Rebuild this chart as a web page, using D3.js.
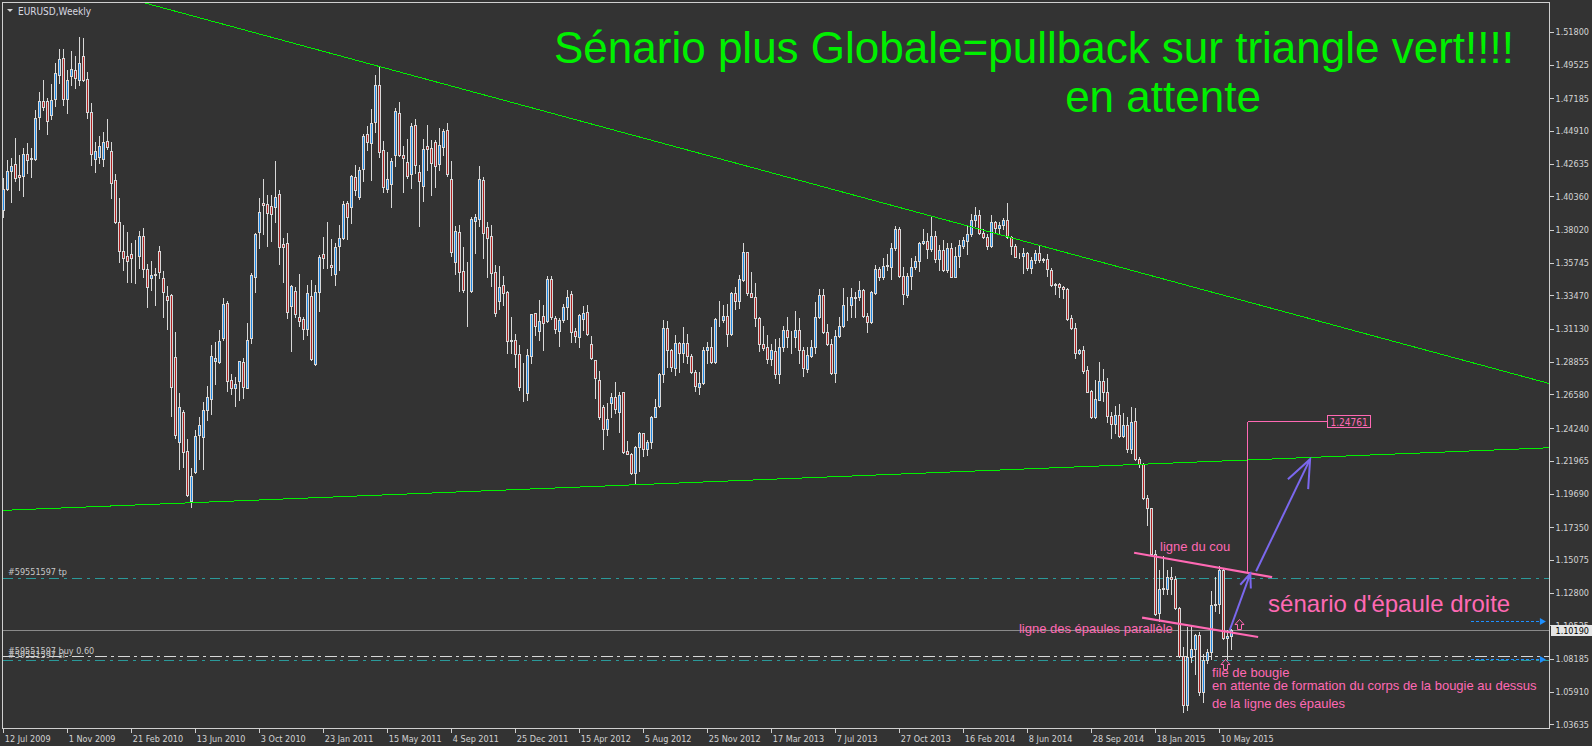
<!DOCTYPE html>
<html><head><meta charset="utf-8"><title>EURUSD Weekly</title>
<script src="https://cdn.jsdelivr.net/npm/d3@7/dist/d3.min.js"></script>
<style>
html,body{margin:0;padding:0;background:#333333;overflow:hidden}
svg{display:block}
</style></head><body>
<svg id="chart" width="1592" height="746"></svg>
<script>
// ---------------- data ----------------
const symbolTitle = "EURUSD,Weekly";
const firstBarDate = "2009-07-12";
const open = [
1.3941,1.4087,1.4215,1.4259,1.4185,1.4180,1.4329,1.4294,1.4294,1.4591,
1.4700,1.4700,1.4605,1.4716,1.4883,1.4997,1.4711,1.4876,1.4913,1.4846,
1.5011,1.4851,1.4621,1.4298,1.4312,1.4294,1.4421,1.4352,1.4150,1.3855,
1.3656,1.3619,1.3635,1.3619,1.3623,1.3760,1.3528,1.3466,1.3489,1.3656,
1.3466,1.3345,1.3350,1.2916,1.2329,1.2533,1.2264,1.1918,1.2120,1.2375,
1.2364,1.2549,1.2630,1.2893,1.2881,1.3053,1.3292,1.2758,1.2700,1.2751,
1.2883,1.2705,1.3053,1.3477,1.3790,1.3992,1.3981,1.3969,1.3960,1.4050,
1.3702,1.3709,1.3275,1.3377,1.3194,1.3180,1.3111,1.3343,1.2867,1.3373,
1.3633,1.3586,1.3558,1.3498,1.3693,1.3744,1.3988,1.3964,1.4169,1.4034,
1.4224,1.4468,1.4405,1.4556,1.4811,1.4359,1.4087,1.4120,1.4324,1.4619,
1.4324,1.4273,1.4189,1.4533,1.4203,1.4108,1.4387,1.4375,1.4412,1.4259,
1.4380,1.4496,1.4155,1.3582,1.3790,1.3517,1.3384,1.3377,1.3865,1.3880,
1.4150,1.3821,1.3760,1.3507,1.3310,1.3419,1.3368,1.3036,1.3036,1.2937,
1.2685,1.2670,1.2925,1.3222,1.3101,1.3201,1.3171,1.3459,1.3187,1.3101,
1.3176,1.3264,1.3354,1.3099,1.3059,1.3180,1.3229,1.3006,1.2895,1.2756,
1.2568,1.2415,1.2600,1.2640,1.2538,1.2672,1.2264,1.2247,1.2115,1.2294,
1.2387,1.2282,1.2331,1.2503,1.2577,1.2802,1.3118,1.2971,1.2844,1.3018,
1.2950,1.3018,1.2925,1.2816,1.2711,1.2735,1.2971,1.2990,1.2886,1.3180,
1.3176,1.3206,1.3076,1.3361,1.3308,1.3454,1.3646,1.3361,1.3338,1.3187,
1.3006,1.2985,1.2902,1.2964,1.2804,1.2985,1.3106,1.3060,1.3055,1.3110,
1.2971,1.2834,1.2927,1.2985,1.3194,1.3347,1.3094,1.3009,1.2809,1.3064,
1.3134,1.3278,1.3278,1.3333,1.3333,1.3384,1.3206,1.3164,1.3361,1.3528,
1.3477,1.3554,1.3547,1.3679,1.3806,1.3484,1.3350,1.3484,1.3547,1.3586,
1.3709,1.3728,1.3667,1.3760,1.3598,1.3662,1.3523,1.3674,1.3477,1.3621,
1.3690,1.3728,1.3774,1.3871,1.3906,1.3785,1.3755,1.3693,1.3855,1.3813,
1.3837,1.3871,1.3755,1.3693,1.3621,1.3623,1.3639,1.3535,1.3593,1.3644,
1.3598,1.3598,1.3525,1.3422,1.3426,1.3403,1.3391,1.3187,1.3124,1.2950,
1.2967,1.2827,1.2681,1.2503,1.2623,1.2753,1.2672,1.2507,1.2456,1.2514,
1.2368,1.2445,1.2282,1.2472,1.2210,1.2173,1.1941,1.1865,1.1551,1.1138,
1.1308,1.1308,1.1389,1.1377,1.1173,1.0837,1.0496,1.0830,1.0890,1.0983,
1.0590,1.0810,1.0865,1.1195,1.1200,1.1440,1.0967,1.0975];
const high = [
1.4162,1.4289,1.4301,1.4440,1.4324,1.4370,1.4405,1.4370,1.4637,1.4765,
1.4846,1.4719,1.4818,1.4962,1.5062,1.5062,1.4916,1.5048,1.5013,1.5148,
1.5136,1.4902,1.4684,1.4417,1.4456,1.4486,1.4572,1.4412,1.4192,1.4022,
1.3837,1.3790,1.3709,1.3732,1.3795,1.3814,1.3563,1.3586,1.3540,1.3690,
1.3517,1.3412,1.3354,1.3092,1.2670,1.2549,1.2350,1.2146,1.2410,1.2503,
1.2607,1.2716,1.3002,1.3025,1.3106,1.3326,1.3310,1.2804,1.2781,1.2893,
1.2913,1.3152,1.3500,1.3783,1.4022,1.4157,1.4046,1.4046,1.4282,1.4080,
1.3749,1.3779,1.3419,1.3408,1.3493,1.3199,1.3419,1.3454,1.3419,1.3628,
1.3751,1.3860,1.3739,1.3709,1.3837,1.4004,1.4006,1.4185,1.4254,1.4243,
1.4468,1.4526,1.4644,1.4881,1.4934,1.4424,1.4347,1.4305,1.4649,1.4691,
1.4389,1.4435,1.4544,1.4575,1.4254,1.4435,1.4533,1.4428,1.4428,1.4514,
1.4505,1.4544,1.4282,1.3832,1.3837,1.3686,1.3582,1.3895,1.3911,1.4247,
1.4169,1.3860,1.3837,1.3558,1.3551,1.3482,1.3377,1.3196,1.3080,1.3000,
1.2874,1.2978,1.3217,1.3227,1.3315,1.3280,1.3482,1.3482,1.3203,1.3187,
1.3287,1.3384,1.3377,1.3124,1.3217,1.3275,1.3280,1.3064,1.2897,1.2821,
1.2584,1.2596,1.2670,1.2742,1.2672,1.2674,1.2336,1.2254,1.2298,1.2394,
1.2391,1.2340,1.2507,1.2626,1.2809,1.3176,1.3171,1.2978,1.3071,1.3025,
1.3129,1.3076,1.2939,1.2827,1.2816,1.2985,1.3020,1.3129,1.3187,1.3310,
1.3280,1.3291,1.3373,1.3403,1.3489,1.3709,1.3651,1.3512,1.3431,1.3199,
1.3134,1.3071,1.3010,1.3045,1.3048,1.3134,1.3199,1.3101,1.3238,1.3192,
1.2990,1.2990,1.3036,1.3303,1.3391,1.3389,1.3148,1.3041,1.3106,1.3199,
1.3396,1.3338,1.3396,1.3373,1.3447,1.3389,1.3222,1.3377,1.3558,1.3542,
1.3605,1.3635,1.3709,1.3829,1.3820,1.3542,1.3505,1.3605,1.3623,1.3720,
1.3806,1.3785,1.3890,1.3797,1.3697,1.3732,1.3709,1.3709,1.3686,1.3732,
1.3755,1.3829,1.3913,1.3960,1.3941,1.3806,1.3778,1.3906,1.3867,1.3860,
1.3883,1.3988,1.3760,1.3704,1.3644,1.3674,1.3651,1.3616,1.3662,1.3690,
1.3605,1.3635,1.3540,1.3435,1.3431,1.3412,1.3396,1.3210,1.3157,1.2978,
1.2994,1.2855,1.2688,1.2762,1.2887,1.2832,1.2770,1.2537,1.2577,1.2595,
1.2530,1.2503,1.2570,1.2561,1.2224,1.2182,1.1957,1.1870,1.1575,1.1435,
1.1533,1.1435,1.1458,1.1394,1.1180,1.0902,1.1043,1.1052,1.0995,1.1005,
1.0855,1.0890,1.1290,1.1390,1.1467,1.1450,1.1018,1.1030];
const low = [
1.3890,1.4080,1.3999,1.4145,1.4080,1.4041,1.4196,1.4173,1.4289,1.4507,
1.4637,1.4472,1.4577,1.4667,1.4823,1.4674,1.4619,1.4811,1.4793,1.4811,
1.4841,1.4579,1.4254,1.4208,1.4266,1.4247,1.4363,1.4022,1.3853,1.3582,
1.3524,1.3438,1.3442,1.3431,1.3535,1.3477,1.3264,1.3384,1.3278,1.3466,
1.3194,1.3111,1.2510,1.2352,1.2141,1.2155,1.1951,1.1872,1.2109,1.2206,
1.2141,1.2480,1.2521,1.2730,1.2874,1.3036,1.2684,1.2661,1.2579,1.2619,
1.2637,1.2700,1.3018,1.3373,1.3680,1.3774,1.3691,1.3725,1.3860,1.3565,
1.3442,1.3192,1.2962,1.3199,1.3134,1.3043,1.3071,1.2897,1.2862,1.3238,
1.3535,1.3535,1.3489,1.3419,1.3524,1.3739,1.3739,1.3848,1.4046,1.4018,
1.4143,1.4359,1.4150,1.4482,1.4312,1.4064,1.4064,1.3964,1.4250,1.4317,
1.4069,1.4166,1.4097,1.4196,1.3832,1.4006,1.4220,1.4046,1.4104,1.4220,
1.4324,1.4180,1.3621,1.3496,1.3377,1.3373,1.3136,1.3368,1.3644,1.3832,
1.3605,1.3477,1.3412,1.3206,1.3250,1.3280,1.2944,1.2944,1.2851,1.2690,
1.2614,1.2619,1.2880,1.3071,1.3036,1.2971,1.3164,1.3180,1.3087,1.2997,
1.3164,1.3183,1.3025,1.3025,1.2990,1.3106,1.3071,1.2902,1.2635,1.2491,
1.2278,1.2375,1.2500,1.2526,1.2398,1.2254,1.2243,1.2108,1.2034,1.2127,
1.2231,1.2236,1.2287,1.2498,1.2568,1.2746,1.2851,1.2823,1.2793,1.2816,
1.2886,1.2874,1.2809,1.2684,1.2658,1.2730,1.2874,1.2879,1.2879,1.3134,
1.3164,1.2995,1.3071,1.3250,1.3257,1.3449,1.3349,1.3333,1.3134,1.2962,
1.2967,1.2879,1.2860,1.2770,1.2739,1.2962,1.2990,1.2948,1.2990,1.2874,
1.2788,1.2816,1.2920,1.2948,1.3187,1.3083,1.3002,1.2800,1.2746,1.3060,
1.3129,1.3176,1.3199,1.3199,1.3315,1.3199,1.3094,1.3157,1.3357,1.3454,
1.3465,1.3523,1.3465,1.3662,1.3472,1.3291,1.3338,1.3391,1.3530,1.3517,
1.3702,1.3605,1.3658,1.3581,1.3523,1.3519,1.3512,1.3472,1.3472,1.3547,
1.3674,1.3635,1.3760,1.3829,1.3778,1.3744,1.3667,1.3686,1.3783,1.3778,
1.3806,1.3744,1.3635,1.3612,1.3605,1.3500,1.3523,1.3500,1.3570,1.3581,
1.3581,1.3482,1.3410,1.3356,1.3333,1.3326,1.3175,1.3117,1.2913,1.2943,
1.2811,1.2672,1.2496,1.2493,1.2620,1.2615,1.2470,1.2352,1.2387,1.2363,
1.2359,1.2255,1.2250,1.2201,1.2155,1.1934,1.1749,1.1540,1.1122,1.1083,
1.1273,1.1273,1.1273,1.1169,1.0832,1.0449,1.0462,1.0800,1.0710,1.0565,
1.0519,1.0790,1.0815,1.1150,1.1135,1.0955,1.0819,1.0887];
const close = [
1.4087,1.4210,1.4247,1.4166,1.4173,1.4329,1.4289,1.4301,1.4579,1.4700,
1.4660,1.4563,1.4707,1.4892,1.4990,1.4711,1.4844,1.4923,1.4858,1.4964,
1.4846,1.4626,1.4329,1.4352,1.4387,1.4412,1.4377,1.4131,1.3855,1.3658,
1.3609,1.3589,1.3609,1.3622,1.3760,1.3528,1.3403,1.3489,1.3493,1.3507,
1.3368,1.3315,1.2712,1.2375,1.2568,1.2259,1.1962,1.2090,1.2368,1.2445,
1.2549,1.2640,1.2925,1.2909,1.3029,1.3285,1.2751,1.2700,1.2730,1.2890,
1.2707,1.3036,1.3489,1.3774,1.3925,1.3976,1.3923,1.3911,1.4029,1.3686,
1.3681,1.3234,1.3412,1.3220,1.3171,1.3111,1.3361,1.2902,1.3368,1.3616,
1.3605,1.3584,1.3542,1.3684,1.3749,1.3983,1.3895,1.4178,1.4083,1.4220,
1.4459,1.4417,1.4544,1.4811,1.4347,1.4099,1.4157,1.4282,1.4630,1.4324,
1.4301,1.4176,1.4526,1.4252,1.4141,1.4366,1.4366,1.4271,1.4245,1.4394,
1.4491,1.4189,1.3651,1.3795,1.3512,1.3384,1.3382,1.3876,1.3890,1.4157,
1.3783,1.3749,1.3505,1.3227,1.3403,1.3361,1.3032,1.3029,1.2937,1.2712,
1.2683,1.2932,1.3215,1.3136,1.3169,1.3152,1.3459,1.3199,1.3111,1.3176,
1.3264,1.3333,1.3094,1.3066,1.3210,1.3227,1.3078,1.2913,1.2770,1.2503,
1.2415,1.2491,1.2640,1.2554,1.2654,1.2259,1.2247,1.2115,1.2294,1.2387,
1.2282,1.2331,1.2503,1.2572,1.2802,1.3118,1.2971,1.2846,1.3018,1.2950,
1.3018,1.2925,1.2816,1.2716,1.2735,1.2971,1.2990,1.2886,1.3180,1.3182,
1.3206,1.3078,1.3361,1.3308,1.3459,1.3646,1.3361,1.3338,1.3187,1.3006,
1.2983,1.2902,1.2967,1.2804,1.2990,1.3106,1.3060,1.3058,1.3110,1.2971,
1.2839,1.2932,1.2985,1.3194,1.3347,1.3094,1.3009,1.2809,1.3064,1.3134,
1.3278,1.3280,1.3333,1.3331,1.3384,1.3206,1.3164,1.3368,1.3528,1.3472,
1.3554,1.3556,1.3674,1.3806,1.3482,1.3354,1.3484,1.3547,1.3586,1.3714,
1.3728,1.3667,1.3760,1.3598,1.3662,1.3523,1.3674,1.3477,1.3621,1.3697,
1.3732,1.3774,1.3871,1.3906,1.3785,1.3751,1.3693,1.3855,1.3813,1.3837,
1.3871,1.3755,1.3693,1.3616,1.3623,1.3639,1.3535,1.3593,1.3644,1.3593,
1.3596,1.3528,1.3420,1.3426,1.3407,1.3389,1.3182,1.3124,1.2950,1.2971,
1.2820,1.2677,1.2503,1.2630,1.2751,1.2672,1.2507,1.2456,1.2514,1.2368,
1.2445,1.2282,1.2468,1.2210,1.2173,1.1941,1.1865,1.1551,1.1134,1.1308,
1.1315,1.1389,1.1377,1.1173,1.0837,1.0496,1.0830,1.0890,1.0983,1.0590,
1.0810,1.0865,1.1195,1.1200,1.1440,1.0967,1.0975,1.1019];

const priceTicks = [1.51800,1.49525,1.47185,1.44910,1.42635,1.40360,1.38020,1.35745,1.33470,1.31130,1.28855,
                    1.26580,1.24240,1.21965,1.19690,1.17350,1.15075,1.12800,1.10525,1.08185,1.05910,1.03635];
const dateLabelEvery = 16;           // one date label every 16 weekly bars
const currentPrice = 1.10190;
const targetPrice = 1.24761;

// order lines (price levels)
const orderLines = [
  {label: "#59551597 tp",       price: 1.1384, kind: "tp"},
  {label: "#59551597 buy 0.60", price: 1.0837, kind: "buy"},
  {label: "#59551597 sl",       price: 1.0809, kind: "sl"}
];
const tradeArrows = [{price: 1.10824, fromBar: 366.9, toBar: 385.4}, {price: 1.08180, fromBar: 366.9, toBar: 385.4}];

// trend lines (bar index, price)
const topTrend    = [{bar: 94, price: 1.4940}, {bar: 240, price: 1.3839}];
const bottomTrend = [{bar: 47, price: 1.1905}, {bar: 300, price: 1.2190}];
const neckLine    = [{bar: 282.7, price: 1.1557}, {bar: 317.2, price: 1.1387}];
const shoulderLine= [{bar: 284.7, price: 1.1106}, {bar: 313.7, price: 1.0971}];
const targetBar = 310.9, targetLabelBar = 330.9;
const scenarioArrows = [
  {from: {bar: 306.6, price: 1.1018}, to: {bar: 311.75, price: 1.1412}, head: 15},
  {from: {bar: 313.2, price: 1.1428}, to: {bar: 326.7, price: 1.2208}, head: 30}
];
const upMarks = [{bar: 308.9, price: 1.1094}, {bar: 305.5, price: 1.0816}];
const notes = [
  {text: "ligne du cou", bar: 289.2, price: 1.1570, size: 13},
  {text: "ligne des épaules parallèle", bar: 253.9, price: 1.0999, size: 13},
  {text: "sénario d'épaule droite", bar: 316.2, price: 1.1143, size: 24},
  {text: "file de bougie", bar: 302.2, price: 1.0693, size: 13},
  {text: "en attente de formation du corps de la bougie au dessus", bar: 302.2, price: 1.0600, size: 13},
  {text: "de la ligne des épaules", bar: 302.2, price: 1.0477, size: 13}
];
const headline = ["Sénario plus Globale=pullback sur triangle vert!!!!", "en attente"];

// ---------------- drawing ----------------
const W = 1592, H = 746;
const frame = {x0: 2.5, y0: 2.5, x1: 1549.5, y1: 728.5};
const axisFont = "'DejaVu Sans Condensed','DejaVu Sans',sans-serif";
const textFont = "'Liberation Sans',Arial,sans-serif";
const PINK = "#ff69b4", LIME = "#00f000", SLATE = "#7b68ee";

const svg = d3.select("#chart");
svg.append("rect").attr("width", W).attr("height", H).attr("fill", "#333333");

const x = d3.scaleLinear().domain([0, 386]).range([3.3, 3.3 + 4 * 386]);
const y = d3.scaleLinear().domain([1.03635, 1.51800]).range([724.3, 32]);

const start = d3.timeParse("%Y-%m-%d")(firstBarDate);
const barDate = i => d3.timeDay.offset(start, 7 * i);
const fmtDate = d3.timeFormat("%-d %b %Y");

svg.append("defs").append("clipPath").attr("id", "plotClip")
  .append("rect").attr("x", 3).attr("y", 3).attr("width", frame.x1 - 3.5).attr("height", frame.y1 - 3.5);

const plot = svg.append("g").attr("clip-path", "url(#plotClip)");

// order / level lines (behind candles)
const lv = plot.append("g").attr("shape-rendering", "crispEdges");
const yPix = p => Math.round(y(p)) + 0.5;
lv.append("line").attr("x1", frame.x0).attr("x2", frame.x1)
  .attr("y1", yPix(currentPrice)).attr("y2", yPix(currentPrice)).attr("stroke", "#8a8a8a");
orderLines.forEach(o => {
  lv.append("line").attr("x1", frame.x0).attr("x2", frame.x1)
    .attr("y1", yPix(o.price)).attr("y2", yPix(o.price))
    .attr("stroke", o.kind === "buy" ? "#d8d8d8" : "#2a9a9a")
    .attr("stroke-dasharray", o.kind === "buy" ? "12,4,3,4" : "10,5,3,5");
});

// candles
const bars = open.map((o, i) => ({i, o, h: high[i], l: low[i], c: close[i]}));
const cg = plot.append("g").attr("shape-rendering", "crispEdges");
const candle = cg.selectAll("g.c").data(bars).join("g").attr("class", "c");
candle.append("line")
  .attr("x1", d => Math.round(x(d.i)) + 0.5).attr("x2", d => Math.round(x(d.i)) + 0.5)
  .attr("y1", d => Math.round(y(d.h))).attr("y2", d => Math.round(y(d.l)) + 1)
  .attr("stroke", "#d8d8d8");
candle.append("rect")
  .attr("x", d => Math.round(x(d.i)) - 0.5)
  .attr("y", d => Math.round(y(Math.max(d.o, d.c))) + 0.5)
  .attr("width", 2)
  .attr("height", d => Math.max(0, Math.round(y(Math.min(d.o, d.c))) - Math.round(y(Math.max(d.o, d.c)))))
  .attr("fill", d => d.c >= d.o ? "#1e88e5" : "#b22222")
  .attr("stroke", "#d8d8d8");

// trend lines
const lineGen = d3.line().x(d => x(d.bar)).y(d => y(d.price));
function extend(a, b) {
  const m = (b.price - a.price) / (b.bar - a.bar);
  const b0 = x.invert(frame.x0 - 2), b1 = x.invert(frame.x1 + 2);
  return [{bar: b0, price: a.price + (b0 - a.bar) * m}, {bar: b1, price: a.price + (b1 - a.bar) * m}];
}
[topTrend, bottomTrend].forEach(t => {
  plot.append("path").attr("d", lineGen(extend(t[0], t[1])))
    .attr("fill", "none").attr("stroke", LIME).attr("stroke-width", 1).attr("shape-rendering", "crispEdges");
});

// head & shoulders lines
[neckLine, shoulderLine].forEach(t => {
  plot.append("path").attr("d", lineGen(t)).attr("fill", "none").attr("stroke", PINK).attr("stroke-width", 2.2);
});

// target projection
const neckAt = b => neckLine[0].price + (b - neckLine[0].bar) * (neckLine[1].price - neckLine[0].price) / (neckLine[1].bar - neckLine[0].bar);
const tg = plot.append("g").attr("shape-rendering", "crispEdges");
const tx = Math.round(x(targetBar)) + 0.5, ty = Math.round(y(targetPrice)) + 0.5;
tg.append("line").attr("x1", tx).attr("x2", tx).attr("y1", ty).attr("y2", y(neckAt(targetBar))).attr("stroke", PINK);
const lblX = Math.round(x(targetLabelBar)) + 0.5;
tg.append("line").attr("x1", tx).attr("x2", lblX).attr("y1", ty).attr("y2", ty).attr("stroke", PINK);
const tText = svg.append("text").attr("x", lblX + 3).attr("y", ty + 4)
  .attr("font-family", axisFont).attr("font-size", 10).attr("fill", PINK).text(targetPrice.toFixed(5));
const tb = tText.node().getBBox();
svg.insert("rect", "text").attr("x", lblX).attr("y", ty - 6).attr("width", tb.width + 6).attr("height", 12)
  .attr("fill", "#333333").attr("stroke", PINK).attr("shape-rendering", "crispEdges");

// scenario arrows
function arrowHead(from, to, len) {
  const x1 = x(from.bar), y1 = y(from.price), x2 = x(to.bar), y2 = y(to.price);
  const ang = Math.atan2(y1 - y2, x1 - x2), s = 22 * Math.PI / 180;
  return [[x2 + len * Math.cos(ang - s), y2 + len * Math.sin(ang - s)], [x2, y2],
          [x2 + len * Math.cos(ang + s), y2 + len * Math.sin(ang + s)]];
}
scenarioArrows.forEach(a => {
  plot.append("path").attr("d", lineGen([a.from, a.to])).attr("fill", "none").attr("stroke", SLATE).attr("stroke-width", 2);
  plot.append("path").attr("d", d3.line()(arrowHead(a.from, a.to, a.head)))
    .attr("fill", "none").attr("stroke", SLATE).attr("stroke-width", 2);
});

// hollow up arrows
upMarks.forEach(m => {
  const px = Math.round(x(m.bar)) + 0.5, py = Math.round(y(m.price)) + 0.5;
  plot.append("path").attr("transform", `translate(${px},${py})`)
    .attr("d", "M0,0 L4.5,5 L2,5 L2,10 L-2,10 L-2,5 L-4.5,5 Z")
    .attr("fill", "#333333").attr("stroke", PINK).attr("stroke-width", 1);
});

// trade arrows (blue dotted, right side)
tradeArrows.forEach(t => {
  const yy = Math.round(y(t.price)) + 0.5;
  svg.append("line").attr("x1", x(t.fromBar)).attr("x2", x(t.toBar) - 4).attr("y1", yy).attr("y2", yy)
    .attr("stroke", "#1e90ff").attr("stroke-dasharray", "3,2").attr("shape-rendering", "crispEdges");
  svg.append("path").attr("d", `M${x(t.toBar) - 5},${yy - 3.5} L${x(t.toBar) + 1},${yy} L${x(t.toBar) - 5},${yy + 3.5} Z`)
    .attr("fill", "#1e90ff");
});

// order line labels
orderLines.forEach(o => {
  svg.append("text").attr("x", 8).attr("y", y(o.price) - 2.5)
    .attr("font-family", axisFont).attr("font-size", 9).attr("fill", "#c8c8c8").text(o.label);
});

// notes
notes.forEach(n => {
  svg.append("text").attr("x", x(n.bar)).attr("y", y(n.price))
    .attr("font-family", textFont).attr("font-size", n.size).attr("fill", PINK).text(n.text);
});

// headline labels
svg.append("text").attr("x", 1034).attr("y", 63).attr("text-anchor", "middle")
  .attr("font-family", textFont).attr("font-size", 44).attr("fill", LIME).text(headline[0]);
svg.append("text").attr("x", 1163).attr("y", 112).attr("text-anchor", "middle")
  .attr("font-family", textFont).attr("font-size", 44).attr("fill", LIME).text(headline[1]);

// frame
svg.append("rect").attr("x", frame.x0).attr("y", frame.y0)
  .attr("width", frame.x1 - frame.x0).attr("height", frame.y1 - frame.y0)
  .attr("fill", "none").attr("stroke", "#d0d0d0").attr("shape-rendering", "crispEdges");

// symbol label
svg.append("path").attr("d", "M7,9 L13,9 L10,12 Z").attr("fill", "#d8d8d8");
svg.append("text").attr("x", 18).attr("y", 15).attr("font-family", axisFont).attr("font-size", 10)
  .attr("fill", "#d8d8e0").text(symbolTitle);

// price axis
const yAxis = d3.axisRight(y).tickValues(priceTicks).tickFormat(d3.format(".5f")).tickSize(4).tickPadding(2);
const ya = svg.append("g").attr("transform", `translate(${frame.x1},0)`).call(yAxis);
ya.select(".domain").remove();
ya.selectAll(".tick line").attr("stroke", "#d0d0d0").attr("shape-rendering", "crispEdges");
ya.selectAll(".tick text").attr("fill", "#d4d4d4").attr("font-family", axisFont).attr("font-size", 9);

// time axis
const tickIdx = d3.range(0, open.length, dateLabelEvery);
const xAxis = d3.axisBottom(x).tickValues(tickIdx).tickFormat(i => fmtDate(barDate(i))).tickSize(4).tickPadding(3);
const xa = svg.append("g").attr("transform", `translate(0,${frame.y1})`).call(xAxis);
xa.select(".domain").remove();
xa.selectAll(".tick line").attr("stroke", "#d0d0d0").attr("shape-rendering", "crispEdges");
xa.selectAll(".tick text").attr("fill", "#d4d4d4").attr("font-family", axisFont).attr("font-size", 9)
  .attr("text-anchor", "start").attr("x", 1);

// current price tag
const cy = Math.round(y(currentPrice));
svg.append("rect").attr("x", frame.x1 + 1).attr("y", cy - 5.5).attr("width", W - frame.x1 - 1).attr("height", 11)
  .attr("fill", "#e4e4e4").attr("shape-rendering", "crispEdges");
svg.append("text").attr("x", frame.x1 + 6).attr("y", cy + 3.5).attr("font-family", axisFont).attr("font-size", 9)
  .attr("fill", "#000").text(currentPrice.toFixed(5));
</script>
</body></html>
